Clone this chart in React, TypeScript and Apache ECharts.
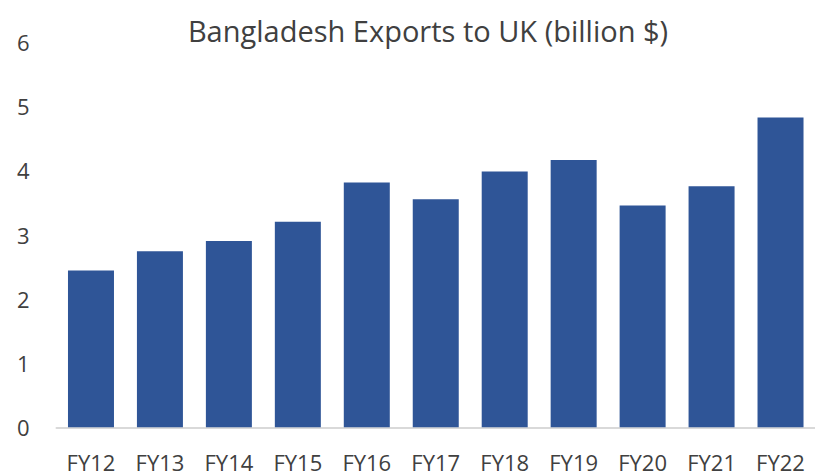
import React, { useEffect, useRef } from "react";
import * as echarts from "echarts";

const categories = ["FY12", "FY13", "FY14", "FY15", "FY16", "FY17", "FY18", "FY19", "FY20", "FY21", "FY22"];
const exportsUK = [2.44, 2.74, 2.9, 3.2, 3.81, 3.55, 3.98, 4.16, 3.45, 3.75, 4.82];
const yTicks = [0, 1, 2, 3, 4, 5, 6];
const titleText = "Bangladesh Exports to UK (billion $)";

export default function App() {
  const ref = useRef<HTMLDivElement>(null);
  useEffect(() => {
    if (!ref.current) return;
    const chart = echarts.init(ref.current, undefined, { renderer: "svg" });
    chart.setOption({
      animation: false,
      backgroundColor: "#ffffff",
      title: {
        text: titleText,
        left: 423,
        textAlign: "center",
        top: 11,
        textStyle: { fontFamily: "Open Sans", fontSize: 29, fontWeight: "normal", color: "#404040" },
      },
      grid: { left: 56.5, right: -7, top: 41.7, bottom: 48.7, containLabel: false },
      xAxis: {
        type: "category",
        data: categories,
        axisLine: { show: true, lineStyle: { color: "#d9d9d9", width: 2 } },
        axisTick: { show: false },
        axisLabel: { fontFamily: "Open Sans", fontSize: 22, color: "#404040", margin: 24 },
      },
      yAxis: {
        type: "value",
        min: yTicks[0],
        max: yTicks[yTicks.length - 1],
        interval: 1,
        splitLine: { show: false },
        axisLine: { show: false },
        axisTick: { show: false },
        axisLabel: { fontFamily: "Open Sans", fontSize: 22, color: "#404040", margin: 27 },
      },
      series: [
        {
          type: "bar",
          data: exportsUK,
          barWidth: 46,
          itemStyle: { color: "#2F5597" },
        },
      ],
    });
    return () => chart.dispose();
  }, []);
  return <div ref={ref} style={{ width: 815, height: 476, position: "absolute", left: 0, top: 0 }} />;
}
